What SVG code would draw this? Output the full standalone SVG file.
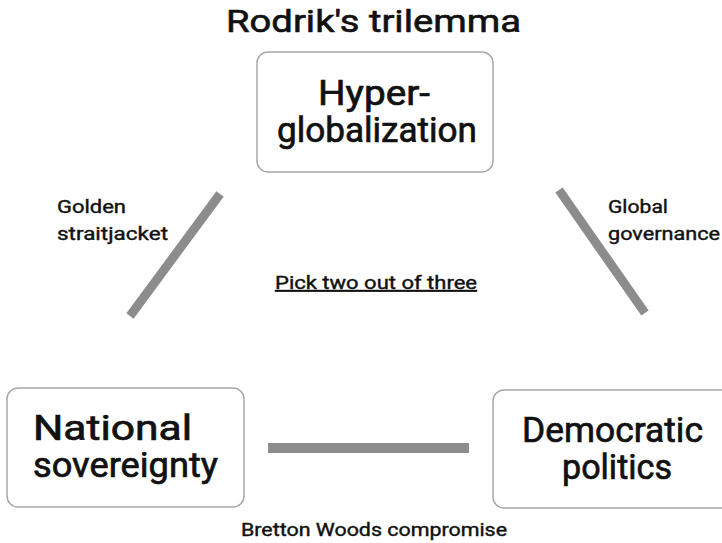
<svg xmlns="http://www.w3.org/2000/svg" width="722" height="543" viewBox="0 0 722 543">
  <style>
    text { font-family: Roboto, "DejaVu Sans", sans-serif; font-weight: 400; fill: #111; stroke: #111; stroke-width: 0.4; }
    .box { fill: #ffffff; stroke: #a8a8a8; stroke-width: 1.5; }
    .node { font-size: 35px; stroke-width: 0.7; }
    .lbl { font-size: 18px; }
    .bar { fill: #8c8c8c; }
    .link { stroke: #8c8c8c; stroke-width: 9; }
  </style>
  <rect width="722" height="543" fill="#ffffff"/>
  <text x="226" y="32" font-size="31" style="stroke-width:0.6" textLength="295" lengthAdjust="spacingAndGlyphs">Rodrik's trilemma</text>

  <g id="connectors">
    <line class="link" x1="220" y1="194" x2="130" y2="316"/>
    <line class="link" x1="559" y1="190" x2="645" y2="313"/>
    <rect class="bar" x="268" y="443" width="201" height="10"/>
  </g>

  <g id="hyperglobalization">
    <rect class="box" x="257" y="52" width="236" height="120" rx="11"/>
    <text class="node" x="318" y="105" textLength="112" lengthAdjust="spacingAndGlyphs">Hyper-</text>
    <text class="node" x="277" y="142" textLength="200" lengthAdjust="spacingAndGlyphs">globalization</text>
  </g>

  <g id="national-sovereignty">
    <rect class="box" x="7" y="388" width="237" height="119" rx="11"/>
    <text class="node" x="33" y="440" textLength="159" lengthAdjust="spacingAndGlyphs">National</text>
    <text class="node" x="33" y="477" textLength="185" lengthAdjust="spacingAndGlyphs">sovereignty</text>
  </g>

  <g id="democratic-politics">
    <rect class="box" x="493" y="390" width="240" height="118" rx="11"/>
    <text class="node" x="522" y="442" textLength="181" lengthAdjust="spacingAndGlyphs">Democratic</text>
    <text class="node" x="562" y="479" textLength="110" lengthAdjust="spacingAndGlyphs">politics</text>
  </g>

  <g id="labels">
    <text class="lbl" x="57" y="213" textLength="69" lengthAdjust="spacingAndGlyphs">Golden</text>
    <text class="lbl" x="57" y="240" textLength="111" lengthAdjust="spacingAndGlyphs">straitjacket</text>
    <text class="lbl" x="608" y="213" textLength="60" lengthAdjust="spacingAndGlyphs">Global</text>
    <text class="lbl" x="608" y="240" textLength="112" lengthAdjust="spacingAndGlyphs">governance</text>
    <text class="lbl" x="275" y="289" textLength="202" lengthAdjust="spacingAndGlyphs" text-decoration="underline">Pick two out of three</text>
    <text class="lbl" x="241" y="536" font-size="19" textLength="266" lengthAdjust="spacingAndGlyphs">Bretton Woods compromise</text>
  </g>
</svg>
